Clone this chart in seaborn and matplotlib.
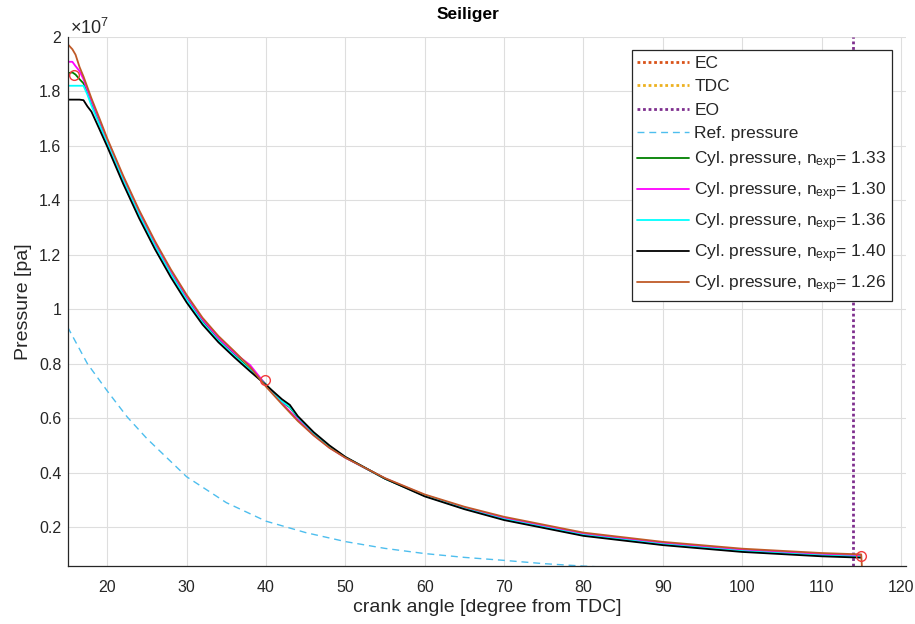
import matplotlib
matplotlib.use("Agg")
import matplotlib.pyplot as plt
import seaborn as sns
import pandas as pd
from matplotlib.ticker import FuncFormatter

# ---------------- data (pressure in units of 1e7 Pa) ----------------
SCALE = 1e7
ANGLE = [15, 15.6, 16, 16.5, 17, 17.5, 18, 19, 20, 22, 24, 26, 28, 30, 32, 34, 36,
         38, 40, 42, 43, 44, 46, 48, 50, 55, 60, 65, 70, 80, 90, 100, 110, 115]

P_N133 = [1.867, 1.870, 1.862, 1.845, 1.830, 1.795, 1.757, 1.688, 1.615, 1.479,
          1.353, 1.239, 1.135, 1.041, 0.957, 0.890, 0.834, 0.780, 0.724, 0.660,
          0.640, 0.603, 0.543, 0.494, 0.456, 0.378, 0.316, 0.270, 0.231, 0.173,
          0.139, 0.114, 0.098, 0.093]
P_N130 = [1.909, 1.909, 1.893, 1.875, 1.845, 1.805, 1.766, 1.695, 1.621, 1.485,
          1.359, 1.245, 1.141, 1.047, 0.963, 0.896, 0.840, 0.795, 0.722, 0.656,
          0.625, 0.595, 0.538, 0.492, 0.455, 0.379, 0.318, 0.272, 0.234, 0.176,
          0.142, 0.117, 0.101, 0.096]
P_N136 = [1.821, 1.821, 1.821, 1.821, 1.821, 1.788, 1.748, 1.678, 1.609, 1.473,
          1.347, 1.233, 1.129, 1.035, 0.951, 0.885, 0.830, 0.777, 0.723, 0.662,
          0.642, 0.605, 0.546, 0.496, 0.457, 0.378, 0.315, 0.268, 0.229, 0.171,
          0.137, 0.112, 0.096, 0.091]
P_N140 = [1.770, 1.770, 1.770, 1.770, 1.768, 1.745, 1.726, 1.662, 1.597, 1.461,
          1.335, 1.221, 1.118, 1.025, 0.944, 0.879, 0.824, 0.772, 0.722, 0.670,
          0.649, 0.608, 0.549, 0.500, 0.458, 0.378, 0.313, 0.266, 0.226, 0.168,
          0.134, 0.109, 0.093, 0.088]
P_N126 = [1.974, 1.955, 1.935, 1.890, 1.855, 1.815, 1.775, 1.702, 1.627, 1.491,
          1.365, 1.251, 1.147, 1.053, 0.969, 0.902, 0.846, 0.788, 0.716, 0.652,
          0.621, 0.590, 0.537, 0.491, 0.455, 0.380, 0.320, 0.275, 0.238, 0.180,
          0.146, 0.121, 0.105, 0.100]
# last sample of the n=1.26 trace (pressure drop at the end)
N126_END_ANGLE = [115.2]
N126_END_P = [0.0]

REF_ANGLE = [15, 17.5, 20, 22.5, 25, 27.5, 30, 35, 40, 45, 50, 55, 60, 65, 70, 75, 80, 85]
REF_P = [0.935, 0.800, 0.700, 0.605, 0.525, 0.455, 0.385, 0.290, 0.222, 0.180,
         0.147, 0.122, 0.103, 0.089, 0.078, 0.066, 0.057, 0.050]

EC_DEG, TDC_DEG, EO_DEG = -20, 0, 114

MARK_ANGLE = [15.85, 39.9, 115.0]
MARK_P = [1.860, 0.740, 0.093]

X_TICKS = [20, 30, 40, 50, 60, 70, 80, 90, 100, 110, 120]
Y_TICKS = [0.2, 0.4, 0.6, 0.8, 1.0, 1.2, 1.4, 1.6, 1.8, 2.0]

SERIES = [
    ("Cyl. pressure, n$_{exp}$= 1.33", P_N133, "#008000"),
    ("Cyl. pressure, n$_{exp}$= 1.30", P_N130, "#FF00FF"),
    ("Cyl. pressure, n$_{exp}$= 1.36", P_N136, "#00FFFF"),
    ("Cyl. pressure, n$_{exp}$= 1.40", P_N140, "#000000"),
    ("Cyl. pressure, n$_{exp}$= 1.26", P_N126, "#BF5A28"),
]

# ---------------- style ----------------
sns.set_style("white")
plt.rcParams['font.family'] = ['Liberation Sans', 'DejaVu Sans']
plt.rcParams['mathtext.fontset'] = 'custom'
plt.rcParams['mathtext.rm'] = 'Liberation Sans'
plt.rcParams['mathtext.it'] = 'Liberation Sans'
plt.rcParams['mathtext.default'] = 'regular'

TXT = '#262626'
fig = plt.figure(figsize=(9.15, 6.24), dpi=100)
ax = fig.add_axes([0.0739, 0.0934, 0.9163, 0.8473])

ax.axvline(EC_DEG, color="#D95319", lw=2, ls=(0, (1, 1)), label="EC")
ax.axvline(TDC_DEG, color="#EDB120", lw=2, ls=(0, (1, 1)), label="TDC")
ax.axvline(EO_DEG, color="#7E2F8E", lw=2, ls=(0, (1, 1)), label="EO")

sns.lineplot(x=REF_ANGLE, y=[v * SCALE for v in REF_P], ax=ax, color="#4DBEEE",
             lw=1, linestyle=(0, (5, 3.5)), label="Ref. pressure", sort=False,
             estimator=None)

for label, vals, col in SERIES:
    xs = list(ANGLE)
    ys = list(vals)
    if vals is P_N126:
        xs += N126_END_ANGLE
        ys += N126_END_P
    df = pd.DataFrame({"angle": xs, "p": [v * SCALE for v in ys]})
    sns.lineplot(data=df, x="angle", y="p", ax=ax, color=col, lw=1.3,
                 label=label, sort=False, estimator=None)

ax.plot(MARK_ANGLE, [v * SCALE for v in MARK_P], linestyle='none', marker='o',
        mfc='none', mec='#F23B3B', mew=1.0, ms=7, label='_nolegend_')

ax.set_xlim(15, 120.65)
ax.set_ylim(0.0584 * SCALE, 2.0 * SCALE)
ax.set_xticks(X_TICKS)
ax.set_yticks([v * SCALE for v in Y_TICKS])
ax.yaxis.set_major_formatter(FuncFormatter(lambda v, p: f"{v / SCALE:g}"))

ax.grid(True, color='#dedede', lw=0.8)
ax.set_axisbelow(True)
for s in ['top', 'right']:
    ax.spines[s].set_visible(False)
for s in ['left', 'bottom']:
    ax.spines[s].set_color(TXT)
    ax.spines[s].set_linewidth(0.9)
ax.tick_params(direction='in', length=6, width=0.9, colors=TXT, labelsize=11.5)
ax.tick_params(axis='x', pad=10)
ax.tick_params(axis='y', pad=4.5)

ax.set_xlabel("crank angle [degree from TDC]", fontsize=14, color=TXT, labelpad=3)
ax.set_ylabel("Pressure [pa]", fontsize=14, color=TXT, labelpad=5)
ax.set_title("Seiliger", fontweight='bold', fontsize=12.5, x=0.478, pad=13, color='black')
ax.text(0.003, 0.998, r"$\times10^{7}$", transform=ax.transAxes, ha='left',
        va='bottom', fontsize=13, color=TXT)

handles, labels = ax.get_legend_handles_labels()
leg = ax.legend(handles, labels, loc='upper right', bbox_to_anchor=(0.9833, 0.9754),
                borderaxespad=0, fancybox=False, framealpha=1, edgecolor='#262626',
                fontsize=12.5, handlelength=3.0, handletextpad=0.3, labelspacing=0.48,
                borderpad=0.32)
leg.get_frame().set_linewidth(0.9)

fig.savefig("out.png", dpi=100)
